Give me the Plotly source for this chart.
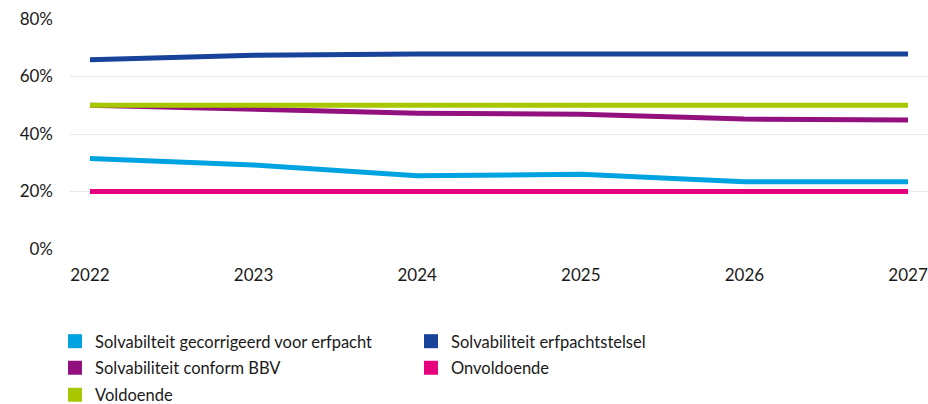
import plotly.graph_objects as go

years = [2022, 2023, 2024, 2025, 2026, 2027]
series_names = [
    "Solvabilteit gecorrigeerd voor erfpacht",
    "Solvabiliteit erfpachtstelsel",
    "Solvabiliteit conform BBV",
    "Onvoldoende",
    "Voldoende",
]
gecorrigeerd = [31.5, 29.2, 25.5, 26.0, 23.4, 23.4]
erfpachtstelsel = [65.8, 67.4, 67.8, 67.8, 67.8, 67.8]
conform_bbv = [50.0, 48.8, 47.2, 46.9, 45.2, 44.9]
onvoldoende = [20, 20, 20, 20, 20, 20]
voldoende = [50, 50, 50, 50, 50, 50]
y_ticks = [0, 20, 40, 60, 80]
y_tick_labels = ["0%", "20%", "40%", "60%", "80%"]

colors = ["#00a3e1", "#19439a", "#93117e", "#e5007e", "#a8c700"]
values = [gecorrigeerd, erfpachtstelsel, conform_bbv, onvoldoende, voldoende]
legend_rows = ["legend", "legend", "legend2", "legend2", "legend3"]

fig = go.Figure()
draw_order = [3, 0, 2, 4, 1]
for i in draw_order:
    fig.add_trace(go.Scatter(
        x=years, y=values[i], mode="lines", name=series_names[i],
        line=dict(color=colors[i], width=5), showlegend=False,
        hoverinfo="x+y",
    ))
for i in range(5):
    fig.add_trace(go.Scatter(
        x=[None], y=[None], mode="markers", name=series_names[i],
        marker=dict(symbol="square", size=14, color=colors[i]),
        showlegend=True, legend=legend_rows[i],
    ))

leg_common = dict(orientation="h", x=-0.0175, xanchor="left", yanchor="middle",
                  entrywidth=311, entrywidthmode="pixels",
                  font=dict(size=16.5, color="#1a1a1a"),
                  itemsizing="trace", bgcolor="rgba(0,0,0,0)")

fig.update_layout(
    width=928, height=404,
    margin=dict(l=70, r=0, t=19, b=155, autoexpand=False),
    plot_bgcolor="white", paper_bgcolor="white",
    font=dict(family="Lato, Noto Sans, sans-serif", size=17, color="#1a1a1a"),
    xaxis=dict(range=[2021.878, 2027.122], tickvals=years, ticktext=[str(y) for y in years],
               showgrid=False, zeroline=False, showline=False, ticks="",
               tickfont=dict(size=17), ticklabelstandoff=14),
    yaxis=dict(range=[0, 80.02], tickvals=y_ticks, ticktext=y_tick_labels,
               showgrid=True, gridcolor="#e8e8e8", gridwidth=1, zeroline=False,
               showline=False, ticks="", tickfont=dict(size=17), ticklabelstandoff=16),
    legend=dict(leg_common, y=-0.402),
    legend2=dict(leg_common, y=-0.517),
    legend3=dict(leg_common, y=-0.635),
    showlegend=True,
)
# remove the default 8px page margin so the 928x404 figure fills the window exactly
fig.write_html(
    "out.html",
    config={"displayModeBar": False},
    post_script="document.body.style.margin='0';document.body.style.overflow='hidden';",
)
